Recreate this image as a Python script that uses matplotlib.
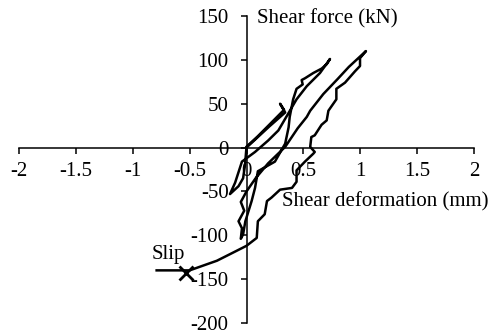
import matplotlib
matplotlib.use("Agg")
import matplotlib.pyplot as plt

plt.rcParams['font.family'] = ['Liberation Serif', 'DejaVu Serif']

# Shear deformation (mm) and shear force (kN) along the loading history
deformation = [0.0, 0.1, 0.2, 0.34, 0.295, 0.33, 0.2, 0.1, 0.0, -0.013, -0.03, -0.07, -0.145,
               -0.1, -0.04, 0.075, 0.19, 0.28, 0.44, 0.53, 0.646, 0.734,
               0.705, 0.66, 0.587, 0.514, 0.485, 0.494, 0.44, 0.41, 0.38, 0.37, 0.34, 0.25,
               0.1, 0.075, 0.045, -0.01, -0.03, -0.05,
               -0.04, -0.07, -0.02, -0.05, 0.0, 0.08, 0.19, 0.34, 0.45, 0.53, 0.56, 0.675, 0.8, 0.9, 1.05,
               0.998, 0.998, 0.954, 0.866, 0.79, 0.79, 0.72, 0.705, 0.66, 0.6, 0.57, 0.56, 0.6, 0.587,
               0.514, 0.44, 0.44, 0.40, 0.295, 0.22, 0.18, 0.16, 0.10, 0.09, 0.06, 0.0,
               -0.145, -0.26, -0.5, -0.79]
force = [0, 12, 24, 40, 50, 43, 26, 13, 1, -20, -35, -44, -53,
         -40, -16, -5, 8, 19.5, 55, 70, 85, 101,
         95, 90, 85, 79, 77, 72, 67, 55, 35, 23, 4.5, -16,
         -27, -46, -61, -84, -99, -104,
         -92, -84, -72, -62, -50, -35, -18, 0.8, 22, 35, 42, 61, 78, 92, 110,
         102, 93, 87, 74, 67, 55, 42, 31, 26, 14, 12, 0.8, -5, -7,
         -16, -26, -39, -46, -48, -57, -61, -76, -84, -103, -106, -112,
         -121.5, -129, -140, -140]

slip_point = (-0.53, -143)

x_ticks = [-2, -1.5, -1, -0.5, 0, 0.5, 1, 1.5, 2]
x_labels = ['-2', '-1.5', '-1', '-0.5', '0', '0.5', '1', '1.5', '2']
y_ticks = [-200, -150, -100, -50, 0, 50, 100, 150]
y_labels = ['-200', '-150', '-100', '-50', '0', '50', '100', '150']

fig = plt.figure(figsize=(4.93, 3.35), dpi=100)
ax = fig.add_axes([19/493, 12/335, 455/493, 307/335])

ax.plot(deformation, force, color='black', lw=1.8, solid_joinstyle='round')
ax.plot([slip_point[0]], [slip_point[1]], marker='x', color='black', ms=10, mew=2)

ax.set_xlim(-2, 2)
ax.set_ylim(-200, 150)

for s in ['top', 'right']:
    ax.spines[s].set_visible(False)
ax.spines['left'].set_position(('data', 0))
ax.spines['bottom'].set_position(('data', 0))
ax.spines['left'].set_linewidth(1.1)
ax.spines['bottom'].set_linewidth(1.1)

ax.set_xticks(x_ticks)
ax.set_xticklabels(x_labels)
ax.set_yticks(y_ticks)
ax.set_yticklabels(y_labels)
ax.tick_params(direction='out', length=4.3, width=1.1, labelsize=15)
ax.tick_params(axis='y', pad=8.5)
ax.tick_params(axis='x', pad=6)

ax.text(0.092, 142, 'Shear force (kN)', fontsize=15, ha='left', va='baseline')
ax.text(0.31, -67.7, 'Shear deformation (mm)', fontsize=15, ha='left', va='baseline')
ax.text(-0.833, -127, 'Slip', fontsize=15, ha='left', va='baseline')

fig.savefig('out.png', dpi=100)
